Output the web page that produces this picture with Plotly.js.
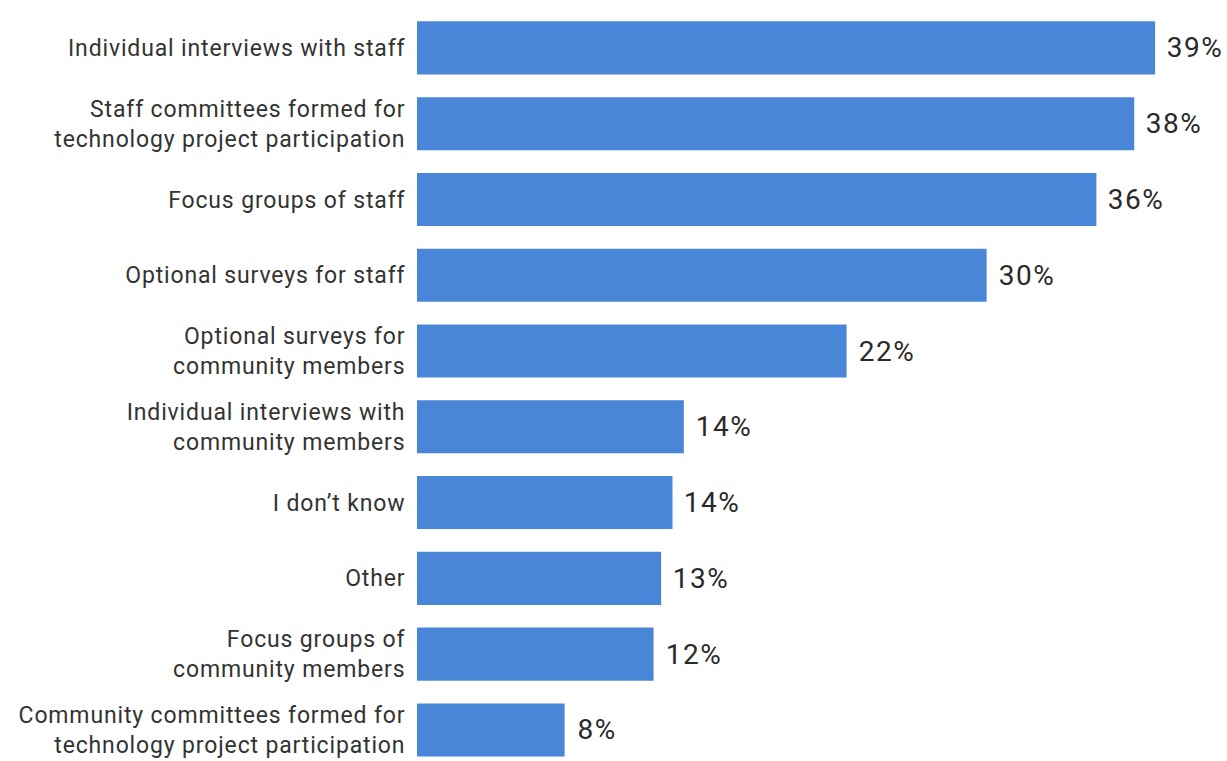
<!DOCTYPE html>
<html>
<head>
<meta charset="utf-8">
<script src="https://cdn.plot.ly/plotly-3.0.1.min.js"></script>
<style>
html,body{margin:0;padding:0;background:#fff;}
#chart{width:1227px;height:761px;}
#chart .ytick text{letter-spacing:0.85px;}
#chart .annotation-text{letter-spacing:1.5px;}
</style>
</head>
<body>
<div id="chart"></div>
<script>
const categories = [
  "Individual interviews with staff",
  "Staff committees formed for<br>technology project participation",
  "Focus groups of staff",
  "Optional surveys for staff",
  "Optional surveys for<br>community members",
  "Individual interviews with<br>community members",
  "I don\u2019t know",
  "Other",
  "Focus groups of<br>community members",
  "Community committees formed for<br>technology project participation"
];
const values = [39.0, 37.9, 35.9, 30.1, 22.7, 14.1, 13.5, 12.9, 12.5, 7.8];
const labels = ["39%", "38%", "36%", "30%", "22%", "14%", "14%", "13%", "12%", "8%"];

const trace = {
  type: 'bar',
  orientation: 'h',
  x: values,
  y: categories,
  marker: {color: '#4a86d8'},
  hoverinfo: 'skip'
};

const annotations = values.map((v, i) => ({
  x: v, y: categories[i], xref: 'x', yref: 'y',
  text: labels[i], showarrow: false, xanchor: 'left', yanchor: 'middle',
  xshift: 12,
  font: {family: 'Roboto, sans-serif', size: 28, color: '#2a2a2a'}
}));

const layout = {
  width: 1227, height: 761,
  margin: {l: 417, r: 53, t: 10, b: 0},
  paper_bgcolor: '#ffffff', plot_bgcolor: '#ffffff',
  bargap: 0.3,
  showlegend: false,
  xaxis: {range: [0, 40], showgrid: false, zeroline: false, showticklabels: false, ticks: '', showline: false, fixedrange: true},
  yaxis: {
    type: 'category',
    categoryorder: 'array', categoryarray: categories,
    range: [9.41, -0.5],
    showgrid: false, zeroline: false, showline: false,
    ticks: 'outside', ticklen: 6, tickcolor: 'rgba(0,0,0,0)',
    ticklabelstandoff: 0,
    tickfont: {family: 'Roboto, sans-serif', size: 23, color: '#333333'},
    fixedrange: true
  },
  annotations: annotations
};

Plotly.newPlot('chart', [trace], layout, {displayModeBar: false, staticPlot: true});
</script>
</body>
</html>
